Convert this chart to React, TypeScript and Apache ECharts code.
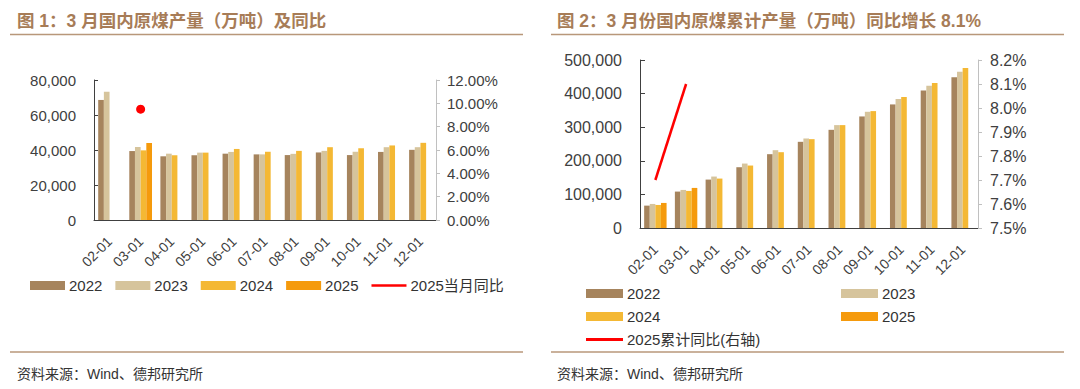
import React, { useEffect, useRef } from "react";
import * as echarts from "echarts";

const categories = ["02-01", "03-01", "04-01", "05-01", "06-01", "07-01", "08-01", "09-01", "10-01", "11-01", "12-01"];

// Chart 1: monthly raw coal output (10k tonnes)
const m2022 = [68600, 39400, 36400, 37000, 37900, 37500, 37100, 38600, 37100, 38900, 40100];
const m2023 = [73300, 41700, 37900, 38500, 38900, 37500, 37800, 39500, 39000, 41600, 41600];
const m2024 = [null, 39800, 37000, 38500, 40600, 39000, 39500, 41600, 41000, 42600, 44100];
const m2025 = [null, 44000, null, null, null, null, null, null, null, null, null];
const mYoY2025 = [null, 9.5, null, null, null, null, null, null, null, null, null];

// Chart 2: cumulative raw coal output (10k tonnes)
const c2022 = [66600, 108400, 144100, 180900, 219700, 256500, 292200, 332000, 367800, 409500, 448300];
const c2023 = [71600, 113300, 153100, 191800, 231600, 266400, 306200, 345900, 383700, 423400, 465200];
const c2024 = [68600, 110300, 147100, 185900, 225600, 264400, 306200, 347900, 389600, 431400, 476100];
const c2025 = [74600, 119300, null, null, null, null, null, null, null, null, null];
const cYoY2025 = [7.7, 8.1, null, null, null, null, null, null, null, null, null];

const leftTicks1 = [0, 20000, 40000, 60000, 80000];
const rightTicks1 = [0, 2, 4, 6, 8, 10, 12];
const leftTicks2 = [0, 100000, 200000, 300000, 400000, 500000];
const rightTicks2 = [7.5, 7.6, 7.7, 7.8, 7.9, 8.0, 8.1, 8.2];

const COLORS = {
  y2022: "#a6845d",
  y2023: "#d6c49c",
  y2024: "#f4b834",
  y2025: "#f59a0c",
  line: "#ff0000",
  title: "#a77c57",
  rule: "#b8977a",
};

const FONT = "'Liberation Sans', Arial, 'Noto Sans CJK SC', sans-serif";

const fmtThousands = (v: number) => v.toString().replace(/\B(?=(\d{3})+(?!\d))/g, ",");

export default function App() {
  const ref = useRef<HTMLDivElement>(null);

  useEffect(() => {
    document.body.style.margin = "0";
    if (!ref.current) return;
    const chart = echarts.init(ref.current, undefined, { renderer: "svg" });

    const axisLabel = { color: "#404040", fontSize: 15, fontFamily: FONT };
    const xLabel = { color: "#404040", fontSize: 14, fontFamily: FONT, rotate: 45, interval: 0, margin: 19 };

    const bar = (name: string, data: any[], color: string, xi: number, yi: number) => ({
      name,
      type: "bar",
      xAxisIndex: xi,
      yAxisIndex: yi,
      data,
      barGap: "0%",
      barCategoryGap: "27%",
      itemStyle: { color },
    });

    const legendText = { color: "#333", fontSize: 15, fontFamily: FONT, padding: [0, 0, 0, -1] };
    const lineIcon = "path://M0,0L40,0L40,3L0,3Z";

    const option: any = {
      animation: false,
      backgroundColor: "#ffffff",
      title: [
        {
          text: "图 1：3 月国内原煤产量（万吨）及同比",
          left: 12,
          top: 7,
          textStyle: { color: COLORS.title, fontSize: 17.5, fontWeight: "bold", fontFamily: FONT },
        },
        {
          text: "图 2：3 月份国内原煤累计产量（万吨）同比增长 8.1%",
          left: 552,
          top: 7,
          textStyle: { color: COLORS.title, fontSize: 17.5, fontWeight: "bold", fontFamily: FONT },
        },
        {
          text: "资料来源：Wind、德邦研究所",
          left: 12,
          top: 362,
          textStyle: { color: "#333", fontSize: 14, fontWeight: "normal", fontFamily: FONT },
        },
        {
          text: "资料来源：Wind、德邦研究所",
          left: 552,
          top: 362,
          textStyle: { color: "#333", fontSize: 14, fontWeight: "normal", fontFamily: FONT },
        },
      ],
      graphic: [
        { type: "line", shape: { x1: 10, y1: 34.5, x2: 523, y2: 34.5 }, style: { stroke: COLORS.rule, lineWidth: 1.5 } },
        { type: "line", shape: { x1: 551, y1: 34.5, x2: 1064, y2: 34.5 }, style: { stroke: COLORS.rule, lineWidth: 1.5 } },
        { type: "line", shape: { x1: 10, y1: 352, x2: 523, y2: 352 }, style: { stroke: COLORS.rule, lineWidth: 1.5 } },
        { type: "line", shape: { x1: 551, y1: 352, x2: 1064, y2: 352 }, style: { stroke: COLORS.rule, lineWidth: 1.5 } },
      ],
      legend: [
        {
          left: 25,
          top: 273,
          itemWidth: 35,
          itemHeight: 9,
          itemGap: 13,
          textStyle: legendText,
          data: [
            { name: "2022", icon: "rect" },
            { name: "2023", icon: "rect" },
            { name: "2024", icon: "rect" },
            { name: "2025", icon: "rect" },
            { name: "2025当月同比", icon: lineIcon },
          ],
        },
        {
          left: 581,
          top: 281,
          itemWidth: 37,
          itemHeight: 9,
          orient: "vertical",
          itemGap: 8,
          textStyle: legendText,
          data: [
            { name: "2022 ", icon: "rect" },
            { name: "2024 ", icon: "rect" },
            { name: "2025累计同比(右轴)", icon: lineIcon },
          ],
        },
        {
          left: 836,
          top: 281,
          itemWidth: 37,
          itemHeight: 9,
          orient: "vertical",
          itemGap: 8,
          textStyle: legendText,
          data: [
            { name: "2023 ", icon: "rect" },
            { name: "2025 ", icon: "rect" },
          ],
        },
      ],
      grid: [
        { left: 94, top: 80, width: 342, height: 140 },
        { left: 640, top: 60, width: 338, height: 168 },
      ],
      xAxis: [
        {
          type: "category",
          gridIndex: 0,
          data: categories,
          axisLine: { lineStyle: { color: "#404040", width: 1 } },
          axisTick: { inside: true, length: 3, lineStyle: { color: "#404040" } },
          axisLabel: xLabel,
        },
        {
          type: "category",
          gridIndex: 1,
          data: categories,
          axisLine: { lineStyle: { color: "#404040", width: 1 } },
          axisTick: { inside: true, length: 3, lineStyle: { color: "#404040" } },
          axisLabel: xLabel,
        },
      ],
      yAxis: [
        {
          type: "value",
          gridIndex: 0,
          min: leftTicks1[0],
          max: leftTicks1[leftTicks1.length - 1],
          interval: leftTicks1[1] - leftTicks1[0],
          axisLine: { show: true, lineStyle: { color: "#404040" } },
          axisTick: { show: true, inside: true, length: 4, lineStyle: { color: "#404040" } },
          splitLine: { show: false },
          axisLabel: { ...axisLabel, margin: 18, formatter: (v: number) => fmtThousands(v) },
        },
        {
          type: "value",
          gridIndex: 0,
          position: "right",
          min: rightTicks1[0],
          max: rightTicks1[rightTicks1.length - 1],
          interval: rightTicks1[1] - rightTicks1[0],
          axisLine: { show: true, lineStyle: { color: "#c0c0c0" } },
          axisTick: { show: true, inside: false, length: 4, lineStyle: { color: "#c0c0c0" } },
          splitLine: { show: false },
          axisLabel: { ...axisLabel, margin: 11, formatter: (v: number) => v.toFixed(2) + "%" },
        },
        {
          type: "value",
          gridIndex: 1,
          min: leftTicks2[0],
          max: leftTicks2[leftTicks2.length - 1],
          interval: leftTicks2[1] - leftTicks2[0],
          axisLine: { show: true, lineStyle: { color: "#404040" } },
          axisTick: { show: true, inside: true, length: 5, lineStyle: { color: "#404040" } },
          splitLine: { show: false },
          axisLabel: { ...axisLabel, fontSize: 16, margin: 18, formatter: (v: number) => fmtThousands(v) },
        },
        {
          type: "value",
          gridIndex: 1,
          position: "right",
          min: rightTicks2[0],
          max: rightTicks2[rightTicks2.length - 1],
          interval: 0.1,
          axisLine: { show: true, lineStyle: { color: "#c0c0c0" } },
          axisTick: { show: true, inside: false, length: 4, lineStyle: { color: "#c0c0c0" } },
          splitLine: { show: false },
          axisLabel: { ...axisLabel, fontSize: 16, margin: 12, formatter: (v: number) => v.toFixed(1) + "%" },
        },
      ],
      series: [
        bar("2022", m2022, COLORS.y2022, 0, 0),
        bar("2023", m2023, COLORS.y2023, 0, 0),
        bar("2024", m2024, COLORS.y2024, 0, 0),
        bar("2025", m2025, COLORS.y2025, 0, 0),
        {
          name: "2025当月同比",
          type: "line",
          xAxisIndex: 0,
          yAxisIndex: 1,
          data: mYoY2025,
          symbol: "circle",
          symbolSize: 9,
          showSymbol: true,
          itemStyle: { color: COLORS.line },
          lineStyle: { color: COLORS.line, width: 2.5 },
        },
        bar("2022 ", c2022, COLORS.y2022, 1, 2),
        bar("2023 ", c2023, COLORS.y2023, 1, 2),
        bar("2024 ", c2024, COLORS.y2024, 1, 2),
        bar("2025 ", c2025, COLORS.y2025, 1, 2),
        {
          name: "2025累计同比(右轴)",
          type: "line",
          xAxisIndex: 1,
          yAxisIndex: 3,
          data: cYoY2025,
          symbol: "none",
          itemStyle: { color: COLORS.line },
          lineStyle: { color: COLORS.line, width: 2.5 },
        },
      ],
    };

    chart.setOption(option);
    return () => chart.dispose();
  }, []);

  return <div ref={ref} style={{ width: 1080, height: 389 }} />;
}
